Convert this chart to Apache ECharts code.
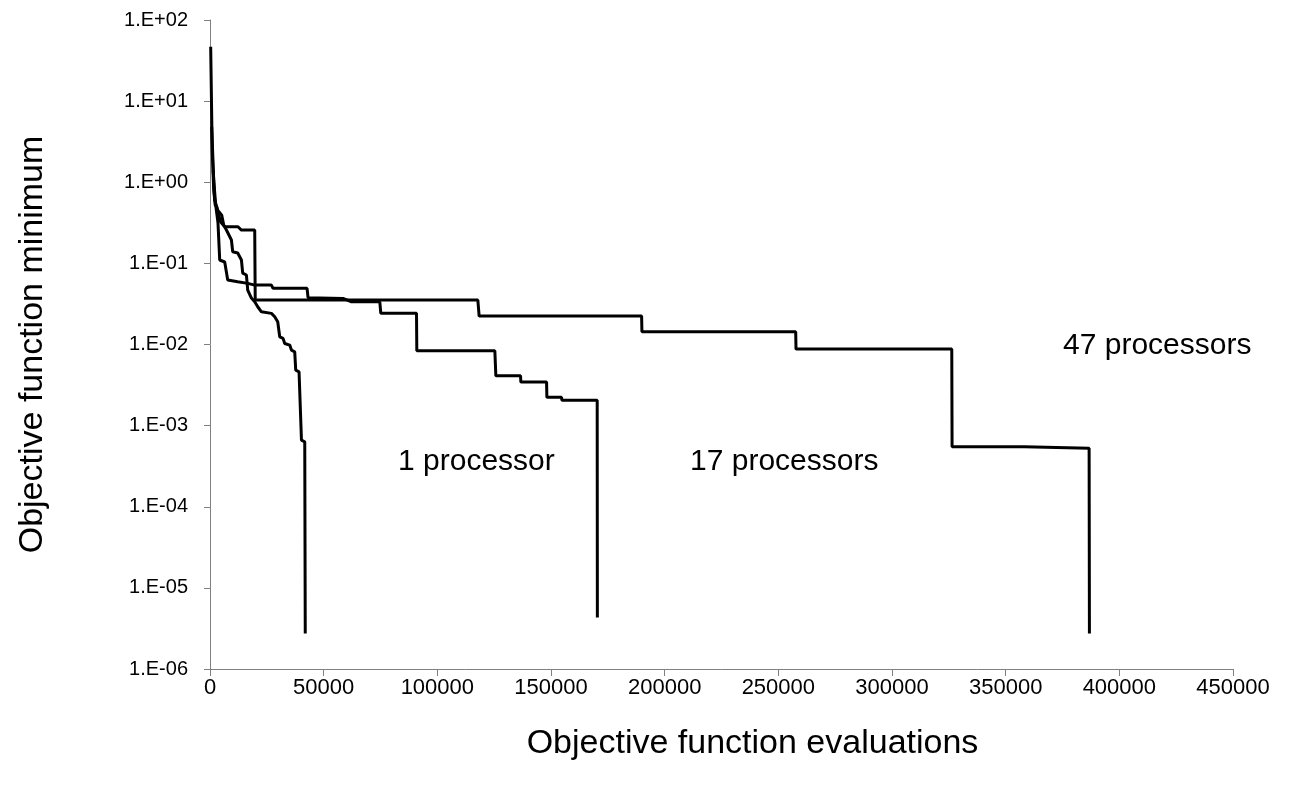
<!DOCTYPE html>
<html>
<head>
<meta charset="utf-8">
<script src="https://cdn.jsdelivr.net/npm/echarts@6/dist/echarts.min.js"></script>
<style>
html,body{margin:0;padding:0;background:#fff;}
#chart{width:1302px;height:791px;}
</style>
</head>
<body>
<div id="chart"></div>
<script>
// Objective function evaluations (x) and objective function minimum (y) for each run
const evals1 = [1410, 2070, 3390, 5150, 6030, 7220, 9420, 9990, 12190, 13820, 14390, 16020, 16590, 18220, 19670, 20990, 22620, 27020, 28470, 29790, 30670, 32130, 32870, 35070, 35820, 37270, 37710, 39170, 40230, 41680, 41900];
const min1 = [1.41, 0.603, 0.454, 0.394, 0.297, 0.258, 0.194, 0.139, 0.134, 0.110, 0.0759, 0.0718, 0.0469, 0.0373, 0.0336, 0.0292, 0.0253, 0.0242, 0.0220, 0.0191, 0.01245, 0.0119, 0.0103, 0.00983, 0.00853, 0.00813, 0.00483, 0.00461, 0.000662, 0.000631, 0.00000274];

const evals17 = [750, 1630, 2510, 3520, 4270, 6470, 7790, 12190, 16590, 19670, 27020, 27730, 42690, 43130, 58530, 62230, 74690, 75130, 90840, 90970, 125300, 125740, 136600, 136740, 148050, 148190, 154650, 154780, 170320, 170400];
const min17 = [4.83, 1.06, 0.523, 0.314, 0.110, 0.104, 0.0622, 0.0593, 0.0567, 0.0540, 0.0540, 0.0492, 0.0492, 0.0378, 0.0370, 0.0336, 0.0336, 0.0242, 0.0242, 0.00836, 0.00836, 0.00411, 0.00411, 0.00344, 0.00344, 0.00223, 0.00223, 0.00206, 0.00206, 0.00000431];

const evals47 = [300, 970, 1630, 2290, 2950, 3830, 4710, 6470, 12320, 13820, 19670, 19890, 117820, 118390, 189860, 189990, 257640, 257770, 326290, 326430, 358110, 358550, 386710, 386840];
const min47 = [46.9, 2.49, 0.801, 0.523, 0.494, 0.394, 0.323, 0.2827, 0.2827, 0.2575, 0.2575, 0.0353, 0.0353, 0.0224, 0.0224, 0.01435, 0.01435, 0.00877, 0.00877, 0.000548, 0.000548, 0.000527, 0.000527, 0.00000274];

const seriesNames = ['1 processor', '17 processors', '47 processors'];
const xMin = 0, xMax = 450000, xInterval = 50000;
const yMin = 1e-6, yMax = 100;

function zip(xs, ys) { return xs.map((x, i) => [x, ys[i]]); }
function sciLabel(v) {
  const e = Math.round(Math.log10(v));
  const sign = e < 0 ? '-' : '+';
  const a = Math.abs(e);
  return '1.E' + sign + (a < 10 ? '0' + a : a);
}

const chart = echarts.init(document.getElementById('chart'), null, {renderer: 'canvas'});
const font = '"Liberation Sans", Arial, sans-serif';
const lineStyle = {color: '#000', width: 3};
const mk = (name, xs, ys) => ({
  name: name, type: 'line', data: zip(xs, ys), showSymbol: false, symbol: 'none',
  lineStyle: lineStyle, itemStyle: {color: '#000'}, animation: false, z: 3
});

chart.setOption({
  backgroundColor: '#fff',
  animation: false,
  grid: {left: 210, right: 69, top: 20, bottom: 122, containLabel: false},
  xAxis: {
    type: 'value', min: xMin, max: xMax, interval: xInterval,
    name: 'Objective function evaluations', nameLocation: 'middle', nameGap: 58,
    nameTextStyle: {fontFamily: font, fontSize: 34, color: '#000', padding: [0, 0, 0, 62]},
    axisLine: {lineStyle: {color: '#808080', width: 1}},
    axisTick: {show: true, length: 7, inside: false, lineStyle: {color: '#808080'}},
    axisLabel: {fontFamily: font, fontSize: 22, color: '#000', margin: 8, formatter: v => String(v)},
    splitLine: {show: false}
  },
  yAxis: {
    type: 'log', logBase: 10, min: yMin, max: yMax,
    name: 'Objective function minimum', nameLocation: 'middle', nameGap: 160,
    nameTextStyle: {fontFamily: font, fontSize: 34, color: '#000'},
    axisLine: {show: true, lineStyle: {color: '#808080', width: 1}},
    axisTick: {show: true, length: 6, lineStyle: {color: '#808080'}},
    axisLabel: {fontFamily: font, fontSize: 20, color: '#000', margin: 22, formatter: sciLabel},
    splitLine: {show: false},
    minorTick: {show: false}
  },
  series: [
    mk(seriesNames[0], evals1, min1),
    mk(seriesNames[1], evals17, min17),
    mk(seriesNames[2], evals47, min47)
  ],
  graphic: [
    {type: 'text', left: 398, top: 447, style: {text: '1 processor', font: '30px ' + font, fill: '#000'}},
    {type: 'text', left: 690, top: 447, style: {text: '17 processors', font: '30px ' + font, fill: '#000'}},
    {type: 'text', left: 1063, top: 331, style: {text: '47 processors', font: '30px ' + font, fill: '#000'}}
  ]
});
</script>
</body>
</html>
